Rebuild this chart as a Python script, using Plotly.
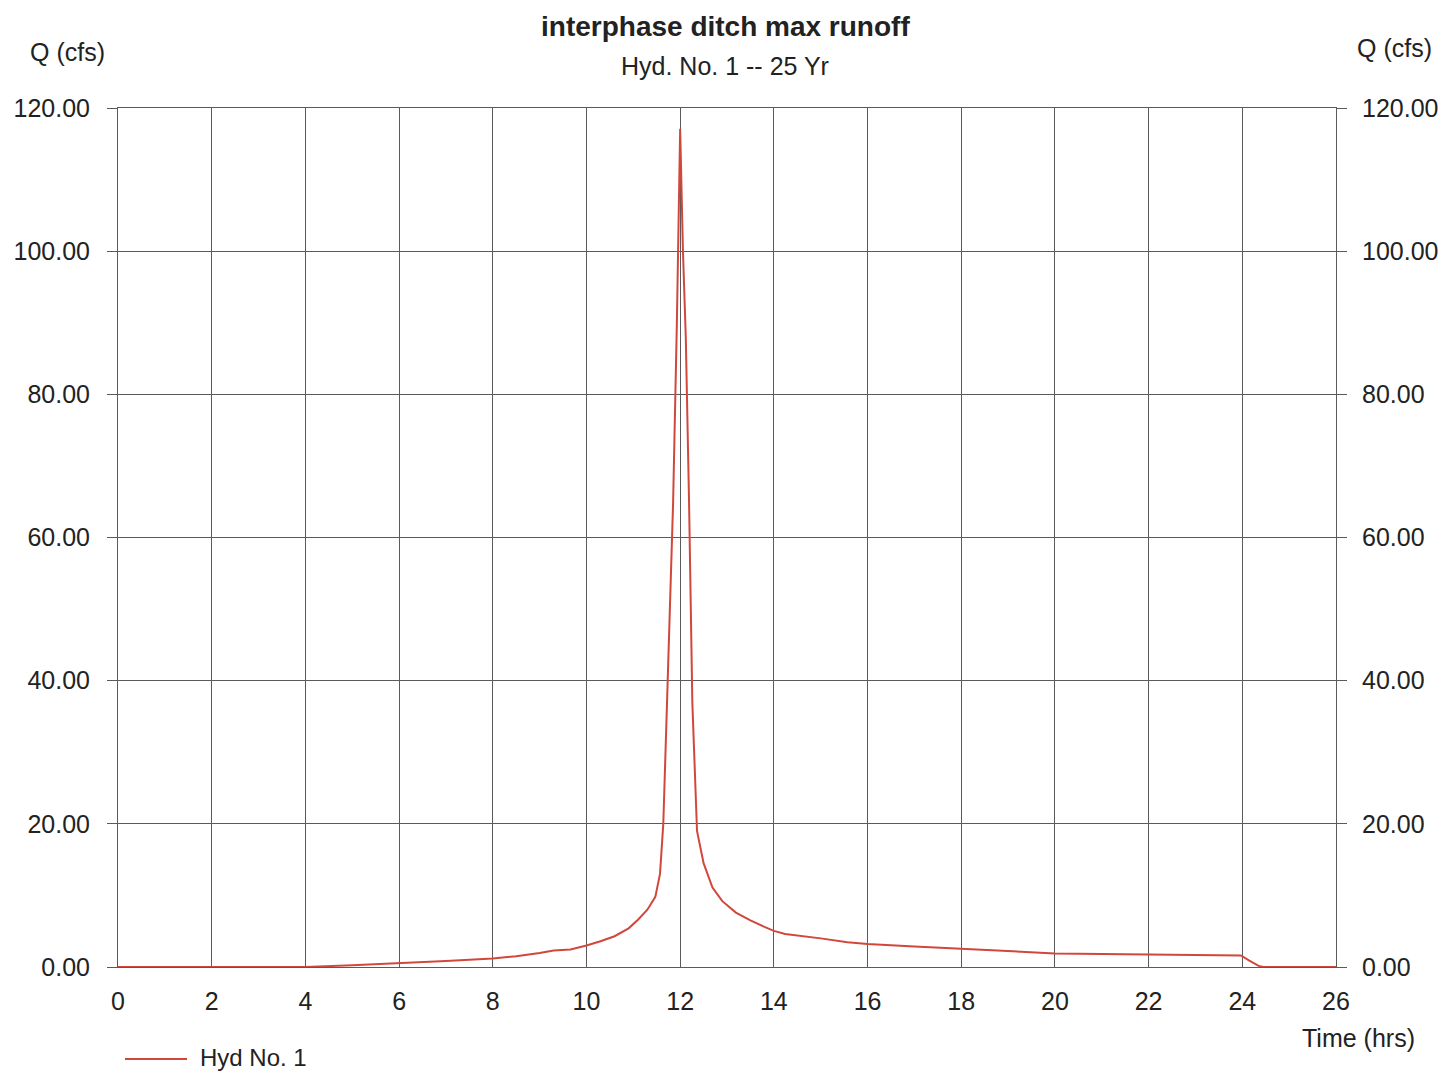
import plotly.graph_objects as go

# ---- data ----
time_hrs = [0, 4.0, 5.0, 6.0, 7.0, 8.0, 8.5, 9.0, 9.3, 9.66, 10.0, 10.3, 10.6, 10.9,
            11.1, 11.3, 11.47, 11.57, 11.64, 11.72, 11.85, 11.93, 12.0, 12.06, 12.12,
            12.19, 12.26, 12.36, 12.5, 12.69, 12.9, 13.19, 13.5, 13.8, 14.0, 14.24,
            14.5, 15.0, 15.57, 16.0, 17.0, 18.0, 19.0, 20.0, 21.0, 22.0, 23.0, 23.97,
            24.15, 24.35, 24.45, 26.0]
flow_cfs = [0, 0, 0.25, 0.5, 0.85, 1.2, 1.5, 1.95, 2.3, 2.45, 3.0, 3.6, 4.3, 5.4,
            6.6, 8.0, 9.8, 13.0, 20.0, 37.0, 65.0, 90.0, 117.1, 100.0, 88.0,
            65.0, 37.0, 19.0, 14.5, 11.1, 9.2, 7.6, 6.5, 5.6, 5.05, 4.6,
            4.4, 4.0, 3.45, 3.2, 2.85, 2.5, 2.2, 1.9, 1.8, 1.75, 1.7, 1.62,
            0.9, 0.15, 0, 0]

x_ticks = list(range(0, 27, 2))
y_ticks = [0, 20, 40, 60, 80, 100, 120]
y_tick_labels = [f"{v:.2f}" for v in y_ticks]

series_name = "Hyd No. 1"
title_text = "interphase ditch max runoff"
subtitle_text = "Hyd. No. 1 -- 25 Yr"

FONT = "Liberation Sans, Arial, sans-serif"
GRID = "#5a5a5a"
LINE_COLOR = "#d2473c"
TXT = "#222"

# the page body adds an 8px offset; work in page pixels and subtract it
OFF = 8
W, H = 1454 - OFF, 1074 - OFF
PL, PR, PT, PB = 118, 1336, 108, 967      # plot-area edges in page pixels
L, R, T, B = PL - OFF, W - (PR - OFF), PT - OFF, H - (PB - OFF)
PW = W - L - R
PH = H - T - B


def px(xp):
    return (xp - PL) / PW


def py(yp):
    return (PB - yp) / PH


fig = go.Figure()
fig.add_trace(go.Scatter(x=time_hrs, y=flow_cfs, mode="lines", name=series_name,
                         showlegend=False,
                         line=dict(color=LINE_COLOR, width=2)))
# invisible trace to drive the right-hand axis
fig.add_trace(go.Scatter(x=time_hrs, y=flow_cfs, mode="lines", yaxis="y2",
                         showlegend=False, hoverinfo="skip",
                         line=dict(color="rgba(0,0,0,0)", width=0)))

fig.update_layout(
    width=W, height=H,
    margin=dict(l=L, r=R, t=T, b=B, autoexpand=False),
    paper_bgcolor="white", plot_bgcolor="white",
    font=dict(family=FONT, size=25, color=TXT),
    showlegend=False,
    xaxis=dict(range=[0, 26], tickvals=x_ticks, ticktext=[str(v) for v in x_ticks],
               showgrid=True, gridcolor=GRID, gridwidth=1, zeroline=False,
               showline=True, linecolor=GRID, linewidth=1, mirror=True,
               ticks="", ticklabelstandoff=12, automargin=False,
               tickfont=dict(size=25, color=TXT)),
    yaxis=dict(range=[0, 120], tickvals=y_ticks, ticktext=y_tick_labels,
               showgrid=True, gridcolor=GRID, gridwidth=1, zeroline=False,
               showline=True, linecolor=GRID, linewidth=1, mirror=True,
               ticks="outside", ticklen=10, tickcolor=GRID, ticklabelstandoff=12,
               automargin=False, tickfont=dict(size=25, color=TXT)),
    yaxis2=dict(range=[0, 120], tickvals=y_ticks, ticktext=y_tick_labels,
                overlaying="y", side="right", showgrid=False, zeroline=False,
                ticks="outside", ticklen=10, tickcolor=GRID, ticklabelstandoff=10,
                automargin=False, tickfont=dict(size=25, color=TXT)),
    shapes=[
        # legend sample line
        dict(type="line", xref="paper", yref="paper",
             x0=px(125), x1=px(187), y0=py(1059), y1=py(1059),
             line=dict(color=LINE_COLOR, width=2)),
    ],
    annotations=[
        dict(text=f"<b>{title_text}</b>", xref="paper", yref="paper",
             x=px(725), y=py(OFF + 1), xanchor="center", yanchor="top",
             showarrow=False, font=dict(size=28, color=TXT)),
        dict(text=subtitle_text, xref="paper", yref="paper",
             x=px(725), y=py(66), xanchor="center", yanchor="middle",
             showarrow=False, font=dict(size=25, color=TXT)),
        dict(text="Q (cfs)", xref="paper", yref="paper",
             x=px(28), y=py(52), xanchor="left", yanchor="middle",
             showarrow=False, font=dict(size=25, color=TXT)),
        dict(text="Q (cfs)", xref="paper", yref="paper",
             x=px(1434), y=py(48), xanchor="right", yanchor="middle",
             showarrow=False, font=dict(size=25, color=TXT)),
        dict(text="Time (hrs)", xref="paper", yref="paper",
             x=px(1417), y=py(1038), xanchor="right", yanchor="middle",
             showarrow=False, font=dict(size=25, color=TXT)),
        # legend label
        dict(text=series_name, xref="paper", yref="paper",
             x=px(198), y=py(1057), xanchor="left", yanchor="middle",
             showarrow=False, font=dict(size=24, color=TXT)),
    ],
)

fig.write_html("out.html")
